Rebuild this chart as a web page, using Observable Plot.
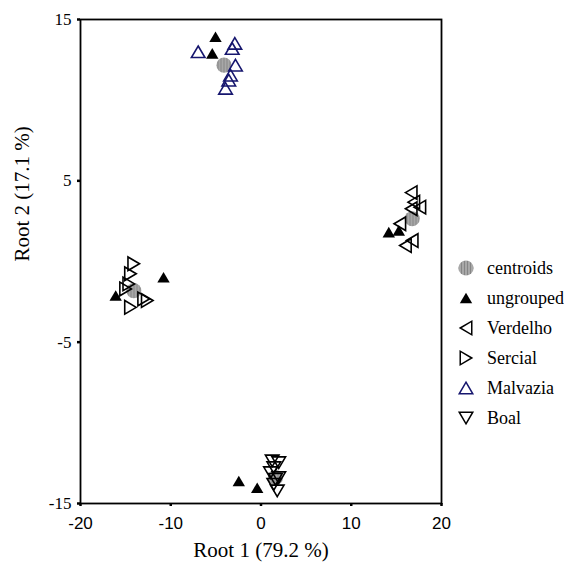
<!DOCTYPE html>
<html><head><meta charset="utf-8">
<script src="https://cdn.jsdelivr.net/npm/d3@7"></script>
<script src="https://cdn.jsdelivr.net/npm/@observablehq/plot@0.6"></script>
<style>body{margin:0;background:#fff} #chart{width:564px;height:562px}</style>
</head><body><div id="chart"></div>
<script>
const xTicks = [-20, -10, 0, 10, 20];
const yTicks = [-15, -5, 5, 15];
const xLabel = "Root 1 (79.2 %)";
const yLabel = "Root 2 (17.1 %)";
const legendLabels = ["centroids", "ungrouped", "Verdelho", "Sercial", "Malvazia", "Boal"];

const centroidX = [-4.1, 16.75, -14.1, 1.6];
const centroidY = [12.17, 2.65, -1.8, -13.4];
const ungroupedX = [-5.04, -5.4, 14.16, 15.27, -16.1, -10.8, -0.42, -2.46];
const ungroupedY = [13.93, 12.9, 1.82, 1.93, -2.11, -0.98, -14.02, -13.6];
const verdelhoX = [16.64, 16.93, 17.6, 16.64, 15.38, 16.75, 16.0];
const verdelhoY = [4.27, 3.68, 3.37, 3.27, 2.34, 1.3, 0.99];
const sercialX = [-14.1, -14.46, -14.65, -15.0, -13.0, -12.6, -14.46];
const sercialY = [-0.14, -0.76, -1.39, -1.7, -2.32, -2.42, -2.84];
const malvaziaX = [-6.96, -2.9, -3.19, -2.83, -3.38, -3.57, -3.93];
const malvaziaY = [13.0, 13.52, 13.2, 12.17, 11.55, 11.24, 10.73];
const boalX = [1.24, 1.97, 1.42, 1.05, 1.97, 1.6, 1.42, 1.8];
const boalY = [-12.36, -12.47, -12.78, -13.09, -13.4, -13.5, -13.81, -14.22];

const serif = "'Liberation Serif', 'Times New Roman', serif";
const sans = "'Liberation Sans', Arial, sans-serif";
const navy = "#16166e";

function tri(dir) {
  return {
    draw(ctx, size) {
      const r = Math.sqrt(size / Math.PI);
      const w = r, h = r * 1.7;
      let p;
      if (dir === "up") p = [[0, -h / 2], [w, h / 2], [-w, h / 2]];
      else if (dir === "down") p = [[0, h / 2], [w, -h / 2], [-w, -h / 2]];
      else if (dir === "left") p = [[-h / 2, 0], [h / 2, -w], [h / 2, w]];
      else p = [[h / 2, 0], [-h / 2, -w], [-h / 2, w]];
      ctx.moveTo(p[0][0], p[0][1]);
      ctx.lineTo(p[1][0], p[1][1]);
      ctx.lineTo(p[2][0], p[2][1]);
      ctx.closePath();
    }
  };
}
const triUp = tri("up"), triDown = tri("down"), triLeft = tri("left"), triRight = tri("right");

const toRows = (xs, ys) => xs.map((x, i) => ({x, y: ys[i]}));

const hollow = {r: 6.8, fill: "none", strokeWidth: 1.6};
const blackR = 6.2;
const centroidR = 7.6;

const plot = Plot.plot({
  width: 564, height: 562,
  marginLeft: 80, marginRight: 123, marginTop: 19, marginBottom: 59,
  x: {domain: [-20, 20]},
  y: {domain: [-15, 15]},
  style: {background: "white", color: "black", overflow: "visible"},
  marks: [
    Plot.dot(toRows(centroidX, centroidY), {x: "x", y: "y", r: centroidR, fill: "url(#hatch)", stroke: "none"}),
    Plot.dot(toRows(verdelhoX, verdelhoY), {x: "x", y: "y", symbol: triLeft, stroke: "black", ...hollow}),
    Plot.dot(toRows(sercialX, sercialY), {x: "x", y: "y", symbol: triRight, stroke: "black", ...hollow}),
    Plot.dot(toRows(malvaziaX, malvaziaY), {x: "x", y: "y", symbol: triUp, stroke: navy, ...hollow}),
    Plot.dot(toRows(boalX, boalY), {x: "x", y: "y", symbol: triDown, stroke: "black", ...hollow}),
    Plot.dot(toRows(ungroupedX, ungroupedY), {x: "x", y: "y", symbol: triUp, r: blackR, fill: "black", stroke: "none"}),
    Plot.frame({stroke: "black", strokeWidth: 1.8}),
    Plot.axisX({ticks: xTicks, tickFormat: d => String(d), tickSize: 3, tickPadding: 10, strokeWidth: 2.5, fontSize: 17, fontFamily: sans, label: null}),
    Plot.axisY({ticks: yTicks, tickFormat: d => String(d), tickSize: 3, tickPadding: 6, strokeWidth: 2.5, fontSize: 17, fontFamily: serif, label: null}),
    Plot.text([xLabel], {text: d => d, frameAnchor: "bottom", lineAnchor: "middle", dy: 47, fontSize: 21, fontFamily: serif}),
    Plot.text([yLabel], {text: d => d, frameAnchor: "left", lineAnchor: "middle", dx: -58, rotate: -90, fontSize: 21, fontFamily: serif})
  ]
});

const svg = d3.select(plot);
const defs = svg.insert("defs", ":first-child");
const pat = defs.append("pattern").attr("id", "hatch").attr("patternUnits", "userSpaceOnUse")
  .attr("width", 3).attr("height", 3);
pat.append("rect").attr("width", 3).attr("height", 3).attr("fill", "#a8a8a8");
pat.append("rect").attr("x", 1).attr("width", 1).attr("height", 3).attr("fill", "#858585");

// legend
const legendSymbols = [
  {type: d3.symbolCircle, size: Math.PI * centroidR * centroidR, fill: "url(#hatch)", stroke: "none"},
  {type: triUp, size: Math.PI * blackR * blackR, fill: "black", stroke: "none"},
  {type: triLeft, size: Math.PI * 46, fill: "none", stroke: "black"},
  {type: triRight, size: Math.PI * 46, fill: "none", stroke: "black"},
  {type: triUp, size: Math.PI * 46, fill: "none", stroke: navy},
  {type: triDown, size: Math.PI * 46, fill: "none", stroke: "black"}
];
const legendRowY = d3.scalePoint().domain(legendLabels).range([268, 418]);
const lg = svg.append("g").attr("class", "legend").attr("text-anchor", "start");
legendLabels.forEach((lab, i) => {
  const s = legendSymbols[i];
  const y = legendRowY(lab);
  lg.append("path").attr("d", d3.symbol(s.type, s.size)())
    .attr("transform", `translate(466,${y})`)
    .attr("fill", s.fill).attr("stroke", s.stroke).attr("stroke-width", 1.5);
  lg.append("text").attr("x", 487).attr("y", y).attr("dy", "0.35em")
    .attr("text-anchor", "start")
    .attr("font-family", serif).attr("font-size", 18).attr("fill", "black").text(lab);
});

document.getElementById("chart").appendChild(plot);
</script>
</body></html>
